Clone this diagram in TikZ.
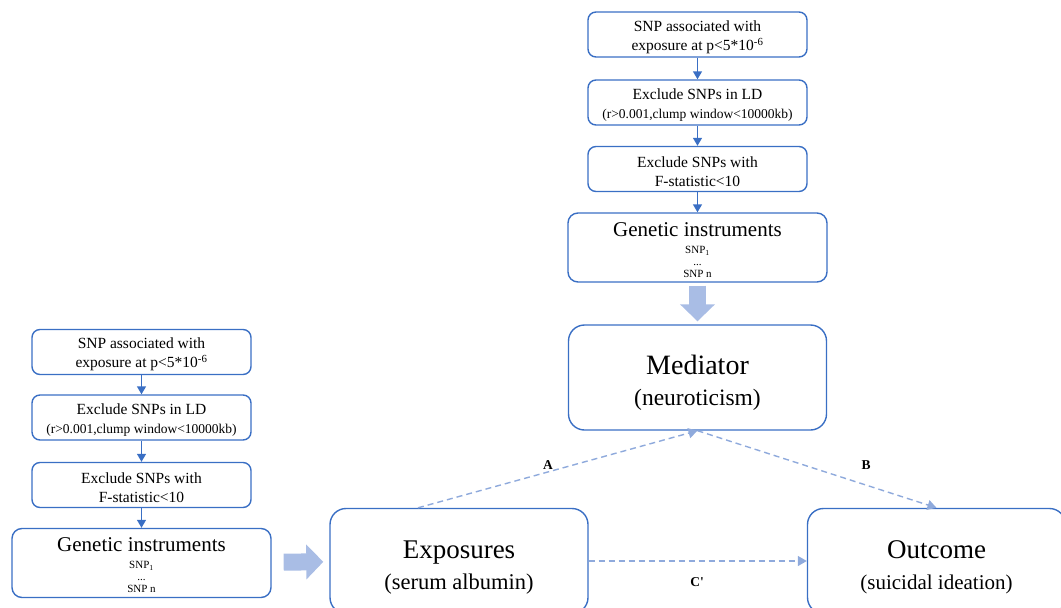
\documentclass[tikz,border=0pt]{standalone}
\usepackage{fontspec}
\setmainfont{Liberation Serif}
\usetikzlibrary{arrows.meta}
\definecolor{boxblue}{HTML}{3A6FC4}
\definecolor{dashblue}{HTML}{8FAADC}
\definecolor{fatblue}{HTML}{A9BDE5}
\newcommand{\topgap}[1]{\rule{0pt}{#1}}
\begin{document}
\begin{tikzpicture}[x=1pt,y=-1pt,
    stepbox/.style={draw=boxblue,line width=1.4pt,rounded corners=8pt,minimum width=219pt,minimum height=45pt,align=center,inner sep=0pt,font=\fontsize{15.5}{19}\selectfont},
    genbox/.style={draw=boxblue,line width=1.4pt,rounded corners=10pt,minimum width=259pt,minimum height=69pt,align=center,inner sep=0pt,font=\fontsize{11}{12}\selectfont},
    bigbox/.style={draw=boxblue,line width=1.4pt,rounded corners=16pt,minimum width=258pt,minimum height=105pt,align=center,inner sep=0pt,font=\fontsize{22}{31}\selectfont},
    flow/.style={draw=boxblue,line width=1.4pt,-{Triangle[width=9pt,length=8pt]}},
    effect/.style={draw=dashblue,line width=1.4pt,dash pattern=on 6pt off 4pt,-{Triangle[width=10pt,length=9pt]}},
    fat/.style={draw=fatblue,line width=17pt,-{Triangle[width=34pt,length=17pt]}},
    lab/.style={font=\fontsize{13.5}{15}\selectfont\bfseries}]
    \useasboundingbox (0,0) rectangle (1061,608);
    \clip (0,0) rectangle (1061,608);

    % mediator chain
    \node [stepbox] (m1) at (697.5,34.5) {\topgap{16pt}SNP associated with\\exposure at p<5*10\textsuperscript{-6}};
    \node [stepbox] (m2) at (697.5,102.5) {\topgap{16pt}Exclude SNPs in LD\\{\fontsize{13.5}{19}\selectfont (r>0.001,clump window<10000kb)}};
    \node [stepbox] (m3) at (697.5,169) {\topgap{16pt}Exclude SNPs with\\F-statistic<10};
    \node [genbox] (mgen) at (697.5,247.5) {{\fontsize{21}{21}\selectfont \topgap{19pt}Genetic instruments}\\[5pt]SNP\textsubscript{1}\\...\\SNP n};
    \draw [flow] (m1) -- (m2);
    \draw [flow] (m2) -- (m3);
    \draw [flow] (m3) -- (mgen);

    % exposure chain
    \node [stepbox] (e1) at (141.5,352) {\topgap{16pt}SNP associated with\\exposure at p<5*10\textsuperscript{-6}};
    \node [stepbox] (e2) at (141.5,417.5) {\topgap{16pt}Exclude SNPs in LD\\{\fontsize{13.5}{19}\selectfont (r>0.001,clump window<10000kb)}};
    \node [stepbox] (e3) at (141.5,485) {\topgap{16pt}Exclude SNPs with\\F-statistic<10};
    \node [genbox] (egen) at (141.5,563) {{\fontsize{21}{21}\selectfont \topgap{19pt}Genetic instruments}\\[5pt]SNP\textsubscript{1}\\...\\SNP n};
    \draw [flow] (e1) -- (e2);
    \draw [flow] (e2) -- (e3);
    \draw [flow] (e3) -- (egen);

    % mediation triangle
    \node [bigbox] (med) at (697.5,377.5) {{\fontsize{28}{31}\selectfont \topgap{30pt}Mediator}\\{\fontsize{23.5}{31}\selectfont (neuroticism)}};
    \node [bigbox] (expo) at (459,561) {{\fontsize{27}{31}\selectfont \topgap{30pt}Exposures}\\{\fontsize{22.5}{31}\selectfont (serum albumin)}};
    \node [bigbox] (outc) at (936.5,561) {{\fontsize{27}{31}\selectfont \topgap{30pt}Outcome}\\{\fontsize{21}{31}\selectfont (suicidal ideation)}};
    \draw [fat,shorten <=3pt,shorten >=3pt] (mgen) -- (med);
    \draw [fat,shorten <=12pt,shorten >=6pt] (egen) -- (expo);
    \draw [effect] ([xshift=-41pt]expo.north) -- (med.south);
    \draw [effect] (med.south) -- (outc.north);
    \draw [effect] (expo) -- (outc);
    \node [lab] (la) at (548,465) {A};
    \node [lab] (lb) at (866,465) {B};
    \node [lab] (lc) at (697,582) {C\textquotesingle};
\end{tikzpicture}
\end{document}
